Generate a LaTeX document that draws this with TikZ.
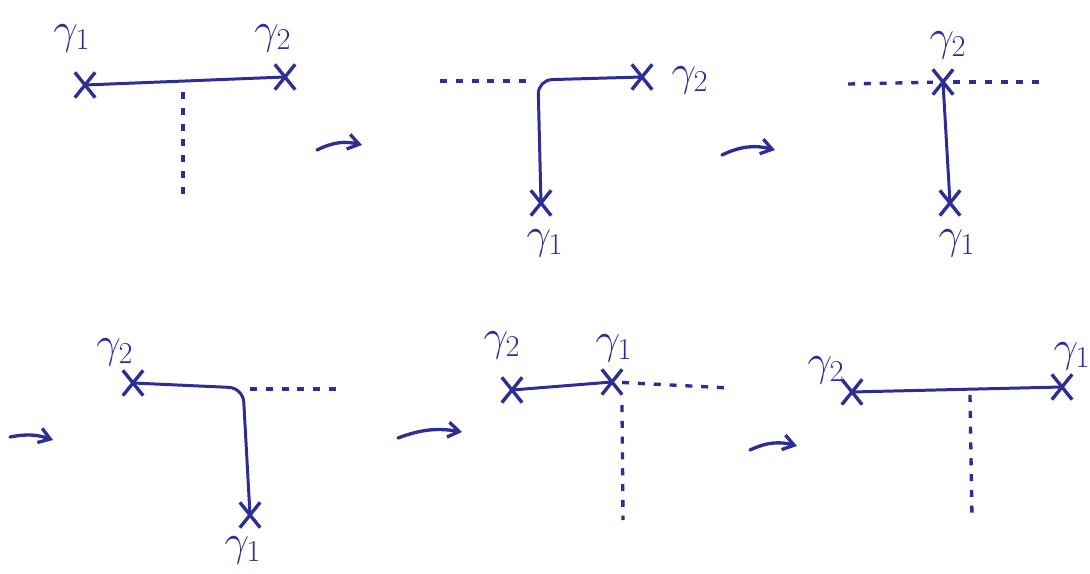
\documentclass[tikz,border=0pt]{standalone}
\usetikzlibrary{positioning,arrows.meta,shapes.misc}
\definecolor{ink}{RGB}{45,45,150}

\begin{document}
\begin{tikzpicture}[
  x=0.02cm, y=-0.02cm,
  font=\fontsize{23}{26}\selectfont,
  lbl/.style={inner sep=1pt, text=ink},
  cut/.style={cross out, draw=ink, line width=1.9pt, minimum width=0.34cm,
              minimum height=0.44cm, inner sep=0pt},
  wire/.style={draw=ink, line width=1.7pt, line cap=round, rounded corners=8pt},
  ghost/.style={draw=ink, line width=1.9pt, dash pattern=on 4pt off 5pt},
  move/.style={draw=ink, line width=1.9pt, line cap=round,
               -{Straight Barb[length=2.2mm,width=3mm]}}
]
\useasboundingbox (0,0) rectangle (1090,574);

% top row
\node[cut] (a1) at (85,85) {};
\node[cut] (a2) at (285,77) {};
\node[lbl] (a1l) at (72,38) {$\gamma_1$};
\node[lbl] (a2l) at (273,38) {$\gamma_2$};
\coordinate (aT) at (183,92);
\coordinate (aB) at (183,200);
\draw[wire] (a1.center) -- (a2.center);
\draw[ghost] (aT) -- (aB);

\coordinate (m1s) at (317,150);
\coordinate (m1e) at (362,145);
\draw[move] (m1s) to[bend left=20] (m1e);

\node[cut] (b2) at (642,77) {};
\node[cut] (b1) at (541,203) {};
\node[lbl] (b2l) at (690,80) {$\gamma_2$};
\node[lbl] (b1l) at (545,243) {$\gamma_1$};
\coordinate (bC) at (538,80);
\coordinate (bL) at (440,81);
\coordinate (bR) at (530,81);
\draw[wire] (b1.center) -- (bC) -- (b2.center);
\draw[ghost] (bL) -- (bR);

\coordinate (m2s) at (722,155);
\coordinate (m2e) at (775,150);
\draw[move] (m2s) to[bend left=20] (m2e);

\node[cut] (c2) at (943,82) {};
\node[cut] (c1) at (950,203) {};
\node[lbl] (c2l) at (948,45) {$\gamma_2$};
\node[lbl] (c1l) at (957,243) {$\gamma_1$};
\coordinate (cL) at (848,84);
\coordinate (cR) at (1047,82);
\draw[ghost] (cL) -- (c2);
\draw[ghost] (c2) -- (cR);
\draw[wire] (c2.center) -- (c1.center);

% bottom row
\coordinate (m3s) at (10,437);
\coordinate (m3e) at (53,440);
\draw[move] (m3s) to[bend left=15] (m3e);

\node[cut] (d2) at (133,383) {};
\node[cut] (d1) at (250,515) {};
\node[lbl] (d2l) at (115,352) {$\gamma_2$};
\node[lbl] (d1l) at (243,550) {$\gamma_1$};
\coordinate (dC) at (243,388);
\coordinate (dL) at (250,389);
\coordinate (dR) at (337,389);
\draw[wire] (d2.center) -- (dC) -- (d1.center);
\draw[ghost] (dL) -- (dR);

\coordinate (m4s) at (398,438);
\coordinate (m4e) at (462,432);
\draw[move] (m4s) to[bend left=15] (m4e);

\node[cut] (e2) at (512,390) {};
\node[cut] (e1) at (612,382) {};
\node[lbl] (e2l) at (502,345) {$\gamma_2$};
\node[lbl] (e1l) at (614,348) {$\gamma_1$};
\coordinate (eR) at (730,388);
\coordinate (eT) at (622,405);
\coordinate (eB) at (623,520);
\draw[wire] (e1.center) -- (e2.center);
\draw[ghost] (e1) -- (eR);
\draw[ghost] (eT) -- (eB);

\coordinate (m5s) at (750,450);
\coordinate (m5e) at (797,446);
\draw[move] (m5s) to[bend left=20] (m5e);

\node[cut] (f2) at (852,392) {};
\node[cut] (f1) at (1062,387) {};
\node[lbl] (f2l) at (826,370) {$\gamma_2$};
\node[lbl] (f1l) at (1072,356) {$\gamma_1$};
\coordinate (fT) at (970,395);
\coordinate (fB) at (972,518);
\draw[wire] (f2.center) -- (f1.center);
\draw[ghost] (fT) -- (fB);
\end{tikzpicture}
\end{document}
